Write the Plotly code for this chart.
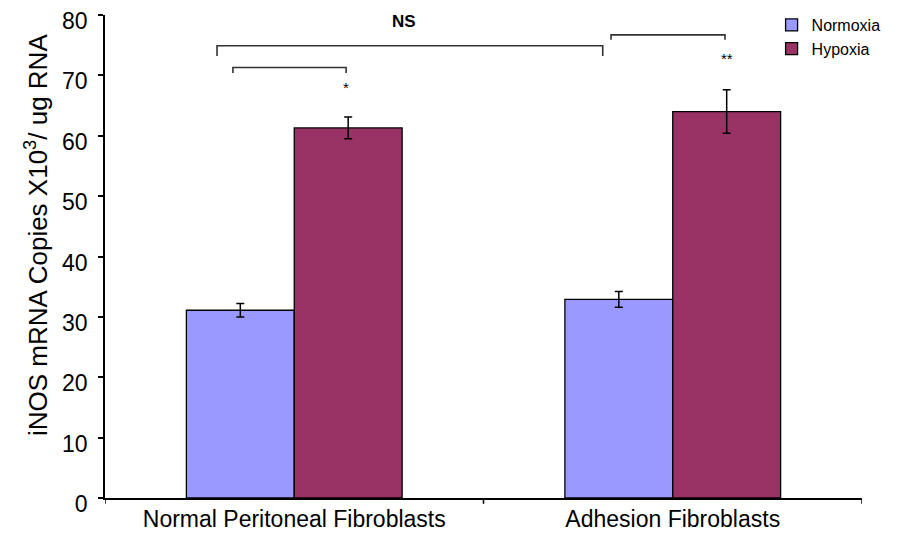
import plotly.graph_objects as go

categories = ["Normal Peritoneal Fibroblasts", "Adhesion Fibroblasts"]
normoxia = [31.1, 32.9]
normoxia_err = [1.1, 1.3]
hypoxia = [61.3, 64.0]
hypoxia_err = [1.8, 3.6]
y_ticks = [0, 10, 20, 30, 40, 50, 60, 70, 80]

# significance brackets: (x0, x1, y, drop)
brackets = [(-0.204, 0.815, 74.9, 1.7), (-0.162, 0.137, 71.3, 0.9), (0.837, 1.138, 76.7, 0.8)]
labels = [(0.29, 78.9, "<b>NS</b>", 17), (0.137, 68.0, "*", 15), (1.143, 72.8, "**", 15)]

FONT = "Liberation Sans, Arial, sans-serif"

# page has an 8px body margin; figure sized to fill the remaining window
W, H = 891, 532
L, R, T, B = 97, 37, 7, 42

fig = go.Figure()
fig.add_trace(go.Bar(
    x=[0, 1], y=normoxia, name="Normoxia",
    marker=dict(color="#9999FF", line=dict(color="#000000", width=1.3)),
    error_y=dict(type="data", array=normoxia_err, color="#000000", thickness=1.5, width=4),
))
fig.add_trace(go.Bar(
    x=[0, 1], y=hypoxia, name="Hypoxia",
    marker=dict(color="#993366", line=dict(color="#000000", width=1.3)),
    error_y=dict(type="data", array=hypoxia_err, color="#000000", thickness=1.5, width=4),
))

for x0, x1, y, d in brackets:
    fig.add_shape(type="path", xref="x", yref="y",
                  path=f"M {x0},{y-d} L {x0},{y} L {x1},{y} L {x1},{y-d}",
                  line=dict(color="#333333", width=1.6))
for x, y, t, s in labels:
    fig.add_annotation(x=x, y=y, xref="x", yref="y", text=t, showarrow=False,
                       font=dict(family=FONT, size=s, color="#000000"))

plot_w = W - L - R
plot_h = H - T - B
# y-axis title as rotated annotation
fig.add_annotation(
    xref="paper", yref="paper",
    x=(28 - L) / plot_w, y=(H - B - 227) / plot_h,
    xanchor="center", yanchor="middle", textangle=-90, showarrow=False,
    text="iNOS mRNA Copies X10<sup>3</sup>/ ug RNA",
    font=dict(family=FONT, size=26, color="#000000"),
)

fig.update_layout(
    width=W, height=H,
    margin=dict(l=L, r=R, t=T, b=B, autoexpand=False),
    paper_bgcolor="white", plot_bgcolor="white",
    barmode="group", bargap=0.43, bargroupgap=0,
    font=dict(family=FONT, color="#000000"),
    showlegend=True,
    legend=dict(xref="container", yref="container", x=0.857, y=1.012,
                xanchor="left", yanchor="top",
                font=dict(family=FONT, size=16, color="#000000"),
                bgcolor="rgba(0,0,0,0)", tracegroupgap=0, itemwidth=30),
)
fig.update_xaxes(
    type="linear", range=[-0.5, 1.5],
    tickvals=[0, 1], ticktext=categories,
    ticks="", showline=True, linecolor="#000000", linewidth=1.5,
    showgrid=False, zeroline=False,
    tickfont=dict(family=FONT, size=23, color="#000000"),
    automargin=False,
)
# boundary tick marks on x axis
for bx in [-0.5, 0.5, 1.5]:
    fig.add_shape(type="line", xref="x", yref="paper", x0=bx, x1=bx, y0=0, y1=-0.012,
                  line=dict(color="#000000", width=1.5))
fig.update_yaxes(
    range=[0, 80], tickvals=y_ticks,
    ticks="outside", ticklen=5, tickwidth=1.5, tickcolor="#000000",
    showline=True, linecolor="#000000", linewidth=1.5,
    showgrid=False, zeroline=False,
    tickfont=dict(family=FONT, size=23, color="#000000"),
    ticklabeloverflow="allow", ticklabelshift=6, ticklabelstandoff=6,
    automargin=False,
)

fig.write_html("out.html")
